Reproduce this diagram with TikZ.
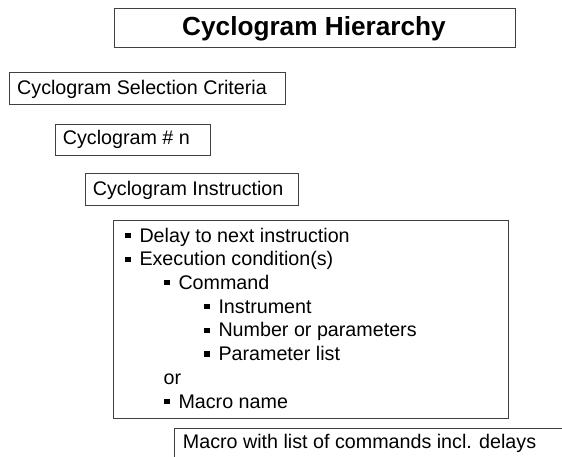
\documentclass[tikz,border=0pt]{standalone}
\usepackage{fontspec}
\setmainfont{Liberation Sans}
\begin{document}
\begin{tikzpicture}[x=1pt,y=-1pt,
  box/.style={draw=black!75,line width=0.9pt,anchor=north west,inner sep=0pt},
  txt/.style={anchor=base west,inner sep=0pt,font=\fontsize{19.7}{23}\selectfont},
  ttl/.style={anchor=base west,inner sep=0pt,font=\fontsize{26.2}{30}\selectfont\bfseries},
  bul/.style={fill=black,draw=none,minimum size=5.2pt,inner sep=0pt}]
\useasboundingbox (0,0) rectangle (562,457);
\clip (0,0) rectangle (562,457);
% boxes
\node[box,minimum width=401pt,minimum height=39pt] (tbox) at (114,8) {};
\node[box,minimum width=276pt,minimum height=32pt] (sbox) at (9,72) {};
\node[box,minimum width=155pt,minimum height=31pt] (nbox) at (55,124) {};
\node[box,minimum width=213pt,minimum height=32pt] (ibox) at (85,173) {};
\node[box,minimum width=395pt,minimum height=198pt] (lbox) at (113,220) {};
\node[box,minimum width=420pt,minimum height=60pt] (mbox) at (174,428) {};
% texts
\node[ttl] (t) at (182,36) {Cyclogram Hierarchy};
\node[txt] (s) at (17,94.3) {Cyclogram Selection Criteria};
\node[txt] (n) at (62.7,145) {Cyclogram \# n};
\node[txt] (i) at (92.7,195.7) {Cyclogram Instruction};
% list
\node[bul] (b1) at (128,235.4) {};
\node[txt] (l1) at (139.3,242) {Delay to next instruction};
\node[bul] (b2) at (128,259.1) {};
\node[txt] (l2) at (139.3,265.7) {Execution condition(s)};
\node[bul] (b3) at (167,282.8) {};
\node[txt] (l3) at (178.3,289.4) {Command};
\node[bul] (b4) at (207,306.5) {};
\node[txt] (l4) at (218.3,313.1) {Instrument};
\node[bul] (b5) at (207,330.2) {};
\node[txt] (l5) at (218.3,336.8) {Number or parameters};
\node[bul] (b6) at (207,353.9) {};
\node[txt] (l6) at (218.3,360.5) {Parameter list};
\node[txt] (l7) at (163.5,384.2) {or};
\node[bul] (b8) at (167,401.6) {};
\node[txt] (l8) at (178.3,408.2) {Macro name};
\node[txt] (m) at (182.7,448) {Macro with list of commands incl. delays};
\end{tikzpicture}
\end{document}
